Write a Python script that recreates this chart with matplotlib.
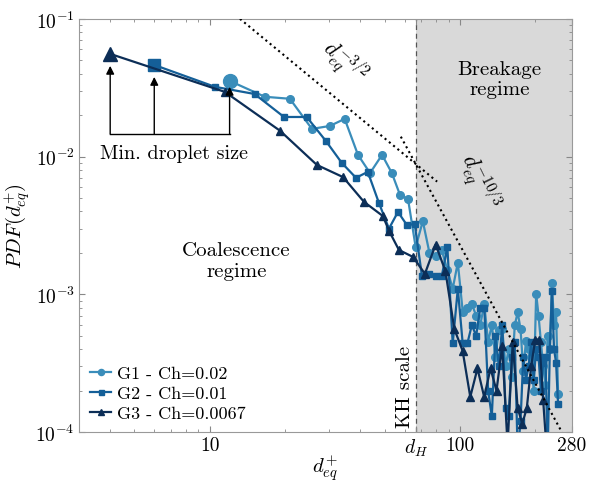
import numpy as np
import matplotlib
matplotlib.use("Agg")
import matplotlib.pyplot as plt
from matplotlib.ticker import FixedLocator, FixedFormatter, LogLocator, NullFormatter

plt.rcParams['font.family'] = 'serif'
plt.rcParams['font.serif'] = ['cmr10', 'DejaVu Serif']
plt.rcParams['mathtext.fontset'] = 'cm'
plt.rcParams['axes.formatter.use_mathtext'] = True

# ---------------- data ----------------
g1_x = [12, 16.6, 20.9, 25.6, 30.2, 34.6, 39.1, 43.7, 48.8, 53.4, 57.5, 62.0,
        66.5, 71, 75.5, 80, 84.5, 89, 93.5, 98, 102.5, 107, 111.5, 116, 120.5,
        125, 129.5, 134, 138.5, 143, 147.5, 152, 156.5, 161, 165.5, 170, 174.5,
        179, 183.5, 188, 192.5, 197, 201.5, 206, 210.5, 215, 219.5, 224, 228.5,
        233, 237.5, 242, 246.5]
g1_y = [0.0355, 0.0272, 0.0263, 0.0159, 0.0167, 0.0188, 0.0103, 0.0076, 0.0103,
        0.0076, 0.0053, 0.0049,
        0.0022, 0.0034, 0.0020, 0.0019, 0.0021, 0.0015, 0.0011, 0.0017, 0.00075,
        0.0008, 0.00085, 0.0007, 0.0006, 0.00085, 0.00045, 0.0006, 0.00035,
        0.00055, 0.00056, 0.0003, 0.0004, 0.00025, 0.0006, 0.00074, 0.00056,
        0.00028, 0.00046, 0.0004, 0.00035, 0.0002, 0.00101, 0.0007, 0.00045,
        0.0003, 0.00022, 0.0005, 0.0004, 0.0012, 0.0006, 0.00074, 0.00019]

g2_x = [6, 10.5, 15.1, 19.8, 24.4, 29.1, 33.7, 38.4, 42.8, 47.4, 52, 56.5,
        61.3, 65.9, 70.5, 75, 80, 84.5, 89, 93.5, 98, 102.5, 107, 111.5, 116,
        120.5, 125, 129.5, 134, 138.5, 143, 147.5, 152, 156.5, 161, 165.5, 170,
        174.5, 179, 183.5, 188, 192.5, 197, 201.5, 206, 210.5, 215, 219.5, 224,
        228.5, 233, 237.5, 242, 246.5]
g2_y = [0.0463, 0.0321, 0.0285, 0.0194, 0.0194, 0.0130, 0.0090, 0.00702,
        0.00775, 0.00462, 0.0030, 0.00397, 0.00319, 0.00324,
        0.00135, 0.0014, 0.00136, 0.00135, 0.0022, 0.00044, 0.0011, 0.00044,
        0.00044, 0.0006, 0.0005, 0.0008, 0.0008, 0.0002, 0.00013, 0.0005,
        0.0003, 0.0006, 0.00015, 0.00013, 0.00035, 0.00045, 0.00007, 0.00012,
        0.00035, 0.00024, 0.0003, 0.00045, 0.00024, 0.0004, 0.00035, 0.0002,
        0.00032, 0.00035, 0.00007, 0.0004, 0.00106, 0.0004, 0.00032, 0.00016]

g3_x = [4, 11.5, 19.1, 26.8, 34.1, 41.3, 49.2, 52, 57, 64.9, 72.4, 79.9, 87.4,
        94.9, 102.4, 109.9, 117.4, 124.9, 132.4, 139.9, 147.4, 154.9, 162.4,
        169.9, 177.4, 184.9, 192.4, 199.9, 207.4, 214.9, 222.4, 229.9]
g3_y = [0.0557, 0.0295, 0.0154, 0.0087, 0.0071, 0.0047, 0.0037, 0.0029, 0.0021,
        0.00187, 0.00141, 0.0023, 0.00148, 0.00056, 0.00039, 0.00018, 0.00029,
        0.00018, 0.00029, 0.0002, 0.00042, 0.00008, 0.00045, 0.00015, 0.000115,
        0.00015, 0.0003, 0.00047, 0.00047, 0.00017, 0.00007, 0.00006]

labels = ['G1 - Ch=0.02', 'G2 - Ch=0.01', 'G3 - Ch=0.0067']
colors = ['#3a8dba', '#145f98', '#0c2e57']
d_H = 66.5
pdf_H = 0.00885
xlim = (3.0, 280)
ylim = (1e-4, 1e-1)
xtick_vals = [10, d_H, 100, 280]
xtick_labels = ['10', r'$d_H$', '100', '280']
min_sizes = [4.0, 6.0, 12.0]
arrow_tips = [0.0456, 0.0379, 0.0321]
bracket_y = 0.0146

# ---------------- figure ----------------
fig = plt.figure(figsize=(5.89, 4.85), dpi=100)
ax = fig.add_axes([0.134, 0.107, 0.837, 0.852])
ax.set_xscale('log')
ax.set_yscale('log')
ax.set_xlim(*xlim)
ax.set_ylim(*ylim)

ax.axvspan(d_H, xlim[1], color='#d9d9d9', zorder=0, lw=0)
ax.axvline(d_H, color='#555555', ls=(0, (4, 3)), lw=0.9, zorder=1)

# power-law guide lines
xa = np.array([13.2, 81.0])
ax.plot(xa, pdf_H * (xa / d_H) ** -1.5, ls=':', color='k', lw=1.5, zorder=4)
xb = np.array([58.0, 280.0])
ax.plot(xb, pdf_H * (xb / d_H) ** (-10 / 3), ls=':', color='k', lw=1.5, zorder=4)

series = [(g1_x, g1_y, 'o', 5.5, 10), (g2_x, g2_y, 's', 4.5, 8), (g3_x, g3_y, '^', 6, 10)]
for (xs, ys, m, ms, big), lab, c in zip(series, labels, colors):
    ax.plot(xs, ys, marker=m, ms=ms, color=c, lw=1.6, label=lab, zorder=3)
    ax.plot(xs[0], ys[0], marker=m, ms=big, color=c, zorder=3, ls='none')

# min droplet size bracket
ax.plot([min_sizes[0], min_sizes[-1]], [bracket_y, bracket_y], color='k', lw=1.0, zorder=5)
for xm, yt in zip(min_sizes, arrow_tips):
    ax.annotate('', xy=(xm, yt), xytext=(xm, bracket_y),
                arrowprops=dict(arrowstyle='-|>', color='k', lw=1.0,
                                mutation_scale=12, shrinkA=0, shrinkB=0), zorder=5)
ax.text(7.18, 0.0107, 'Min. droplet size', ha='center', va='center', fontsize=14.5)

ax.text(144, 0.0366, 'Breakage\nregime', ha='center', va='center', fontsize=15,
        linespacing=1.2)
ax.text(12.8, 0.00175, 'Coalescence\nregime', ha='center', va='center', fontsize=15,
        linespacing=1.2)
ax.text(60.5, 0.000215, 'KH scale', ha='center', va='center', rotation=90, fontsize=15)
ax.text(34.5, 0.049, r'$d_{eq}^{-3/2}$', ha='center', va='center', rotation=-42, fontsize=16)
ax.text(119, 0.0066, r'$d_{eq}^{-10/3}$', ha='center', va='center', rotation=-64, fontsize=16)

# ticks
ax.xaxis.set_major_locator(FixedLocator(xtick_vals))
ax.xaxis.set_major_formatter(FixedFormatter(xtick_labels))
ax.xaxis.set_minor_locator(LogLocator(base=10, subs=np.arange(2, 10)))
ax.xaxis.set_minor_formatter(NullFormatter())
ax.yaxis.set_major_locator(LogLocator(base=10, numticks=10))
ax.yaxis.set_minor_locator(LogLocator(base=10, subs=np.arange(2, 10), numticks=10))
ax.yaxis.set_minor_formatter(NullFormatter())
ax.tick_params(which='both', direction='in', top=True, right=True, color='#888888')
ax.tick_params(which='major', length=4, labelsize=14, pad=3)
ax.tick_params(which='minor', length=2.5)
for s in ax.spines.values():
    s.set_color('#999999')
    s.set_linewidth(0.8)

ax.set_xlabel(r'$d_{eq}^{+}$', fontsize=15)
ax.set_ylabel(r'$PDF(d_{eq}^{+})$', fontsize=15)
ax.xaxis.set_label_coords(0.5, -0.048)
ax.yaxis.set_label_coords(-0.095, 0.5)

leg = ax.legend(loc='lower left', frameon=False, fontsize=13, handlelength=1.2,
                handletextpad=0.3, borderaxespad=0.2, labelspacing=0.25,
                markerscale=0.8)

fig.savefig('out.png', dpi=100)
